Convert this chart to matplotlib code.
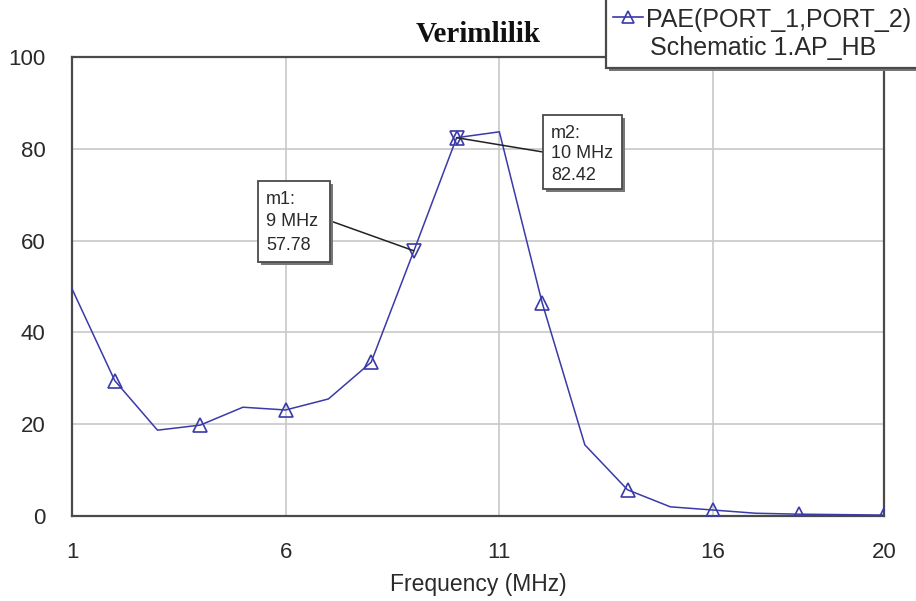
import matplotlib
matplotlib.use("Agg")
import matplotlib.pyplot as plt
from matplotlib.patches import Rectangle
from matplotlib.lines import Line2D

# ---- data ----
freq_mhz = [1, 2, 3, 4, 5, 6, 7, 8, 9, 10, 11, 12, 13, 14, 15, 16, 17, 18, 19, 20]
pae = [49.5, 29.5, 18.7, 19.8, 23.7, 23.1, 25.5, 33.5, 57.78, 82.42,
       83.7, 46.5, 15.5, 5.7, 2.0, 1.3, 0.6, 0.4, 0.3, 0.2]
x_ticks = [1, 6, 11, 16, 20]
y_ticks = [0, 20, 40, 60, 80, 100]
marker_names = ["m1", "m2"]
marker_freqs = [9, 10]
marker_vals = [57.78, 82.42]
title = "Verimlilik"
xlabel = "Frequency (MHz)"
legend_lines = ["PAE(PORT_1,PORT_2)", "Schematic 1.AP_HB"]

BLUE = "#3a3aa8"
GRID = "#c8c8c8"
SPINE = "#4a4a4a"
TXT = "#2a2a2a"

plt.rcParams["font.family"] = ["Liberation Sans", "DejaVu Sans"]

fig = plt.figure(figsize=(9.16, 6.01), dpi=100)
W, H = 916, 601
L, R, T, B = 72, 884, 57, 516
ax = fig.add_axes([L / W, 1 - B / H, (R - L) / W, (B - T) / H])

ax.plot(freq_mhz, pae, color=BLUE, lw=1.1, marker="^", markersize=10,
        markerfacecolor="none", markeredgecolor=BLUE, markeredgewidth=1.2,
        markevery=slice(1, None, 2), zorder=3)

ax.set_xlim(min(x_ticks), max(x_ticks))
ax.set_ylim(min(y_ticks), max(y_ticks))
ax.set_xticks(x_ticks)
ax.set_yticks(y_ticks)
ax.tick_params(length=0, labelsize=16, colors=TXT, pad=19)
ax.grid(True, color=GRID, lw=1.2)
ax.set_axisbelow(True)
for s in ax.spines.values():
    s.set_color(SPINE)
    s.set_linewidth(1.6)
ax.set_xlabel(xlabel, fontsize=16.5, color=TXT, labelpad=7)

fig.text(478 / W, 1 - 34 / H, title, fontsize=21, fontweight="bold",
         family=["Liberation Serif", "DejaVu Serif"], ha="center", va="center", color="#111")

# pixel -> axes-fraction helpers for annotation box layout
def px_ax(xp, yp):
    return ((xp - L) / (R - L), (B - yp) / (B - T))

# marker annotation boxes (pixel layout: left, top, right, bottom)
boxes = [(258, 181, 330, 262), (543, 115, 622, 189)]
leader_side = ["right", "left"]
line_gap = [23, 21]
for name, f, v, bx, side, gap in zip(marker_names, marker_freqs, marker_vals, boxes, leader_side, line_gap):
    ax.plot([f], [v], marker="v", markersize=10, markerfacecolor="none",
            markeredgecolor=BLUE, markeredgewidth=1.2, zorder=4)
    x0, y0, x1, y1 = bx
    sx, sy = px_ax(x0 + 3, y1 + 3)
    ex, ey = px_ax(x1 + 3, y0 + 3)
    ax.add_patch(Rectangle((sx, sy), ex - sx, ey - sy, transform=ax.transAxes,
                           fc="#777", ec="none", zorder=6, clip_on=False))
    ax0, ay0 = px_ax(x0, y1)
    ax1, ay1 = px_ax(x1, y0)
    ax.add_patch(Rectangle((ax0, ay0), ax1 - ax0, ay1 - ay0, transform=ax.transAxes,
                           fc="white", ec=SPINE, lw=1.3, zorder=7, clip_on=False))
    lines = [f"{name}:", f"{f} MHz", f"{v:.2f}"]
    for i, s in enumerate(lines):
        tx, ty = px_ax(x0 + 8, y0 + 18 + i * gap)
        ax.text(tx, ty, s, transform=ax.transAxes, fontsize=13, color=TXT,
                ha="left", va="center", zorder=8)
    lx = x1 + 2 if side == "right" else x0
    ly = (y0 + y1) / 2
    axp = px_ax(lx, ly)
    ax.annotate("", xy=(f, v), xytext=axp, textcoords="axes fraction",
                arrowprops=dict(arrowstyle="-", color="#222", lw=1.1, shrinkA=0, shrinkB=0),
                zorder=5)

# legend box (top right, partially outside the figure)
lx0, ly1 = 606, 68
shadow = Rectangle(((lx0 + 3) / W, 1 - (ly1 + 3) / H), 1.0, 1.0,
                   transform=fig.transFigure, fc="#777", ec="none", zorder=9)
fig.patches.append(shadow)
box = Rectangle((lx0 / W, 1 - ly1 / H), 1.0, 1.0, transform=fig.transFigure,
                fc="white", ec=SPINE, lw=1.6, zorder=10)
fig.patches.append(box)
fig.lines.append(Line2D([613 / W, 643 / W], [1 - 17 / H, 1 - 17 / H], transform=fig.transFigure,
                        color=BLUE, lw=1.2, zorder=11))
fig.lines.append(Line2D([628 / W], [1 - 17 / H], transform=fig.transFigure, marker="^",
                        markersize=9, markerfacecolor="none", markeredgecolor=BLUE,
                        markeredgewidth=1.2, color=BLUE, zorder=11))
fig.text(646 / W, 1 - 27 / H, legend_lines[0], fontsize=18, color=TXT, ha="left", va="baseline", zorder=12)
fig.text(650 / W, 1 - 55 / H, legend_lines[1], fontsize=18, color=TXT, ha="left", va="baseline", zorder=12)

fig.savefig("out.png", dpi=100)
